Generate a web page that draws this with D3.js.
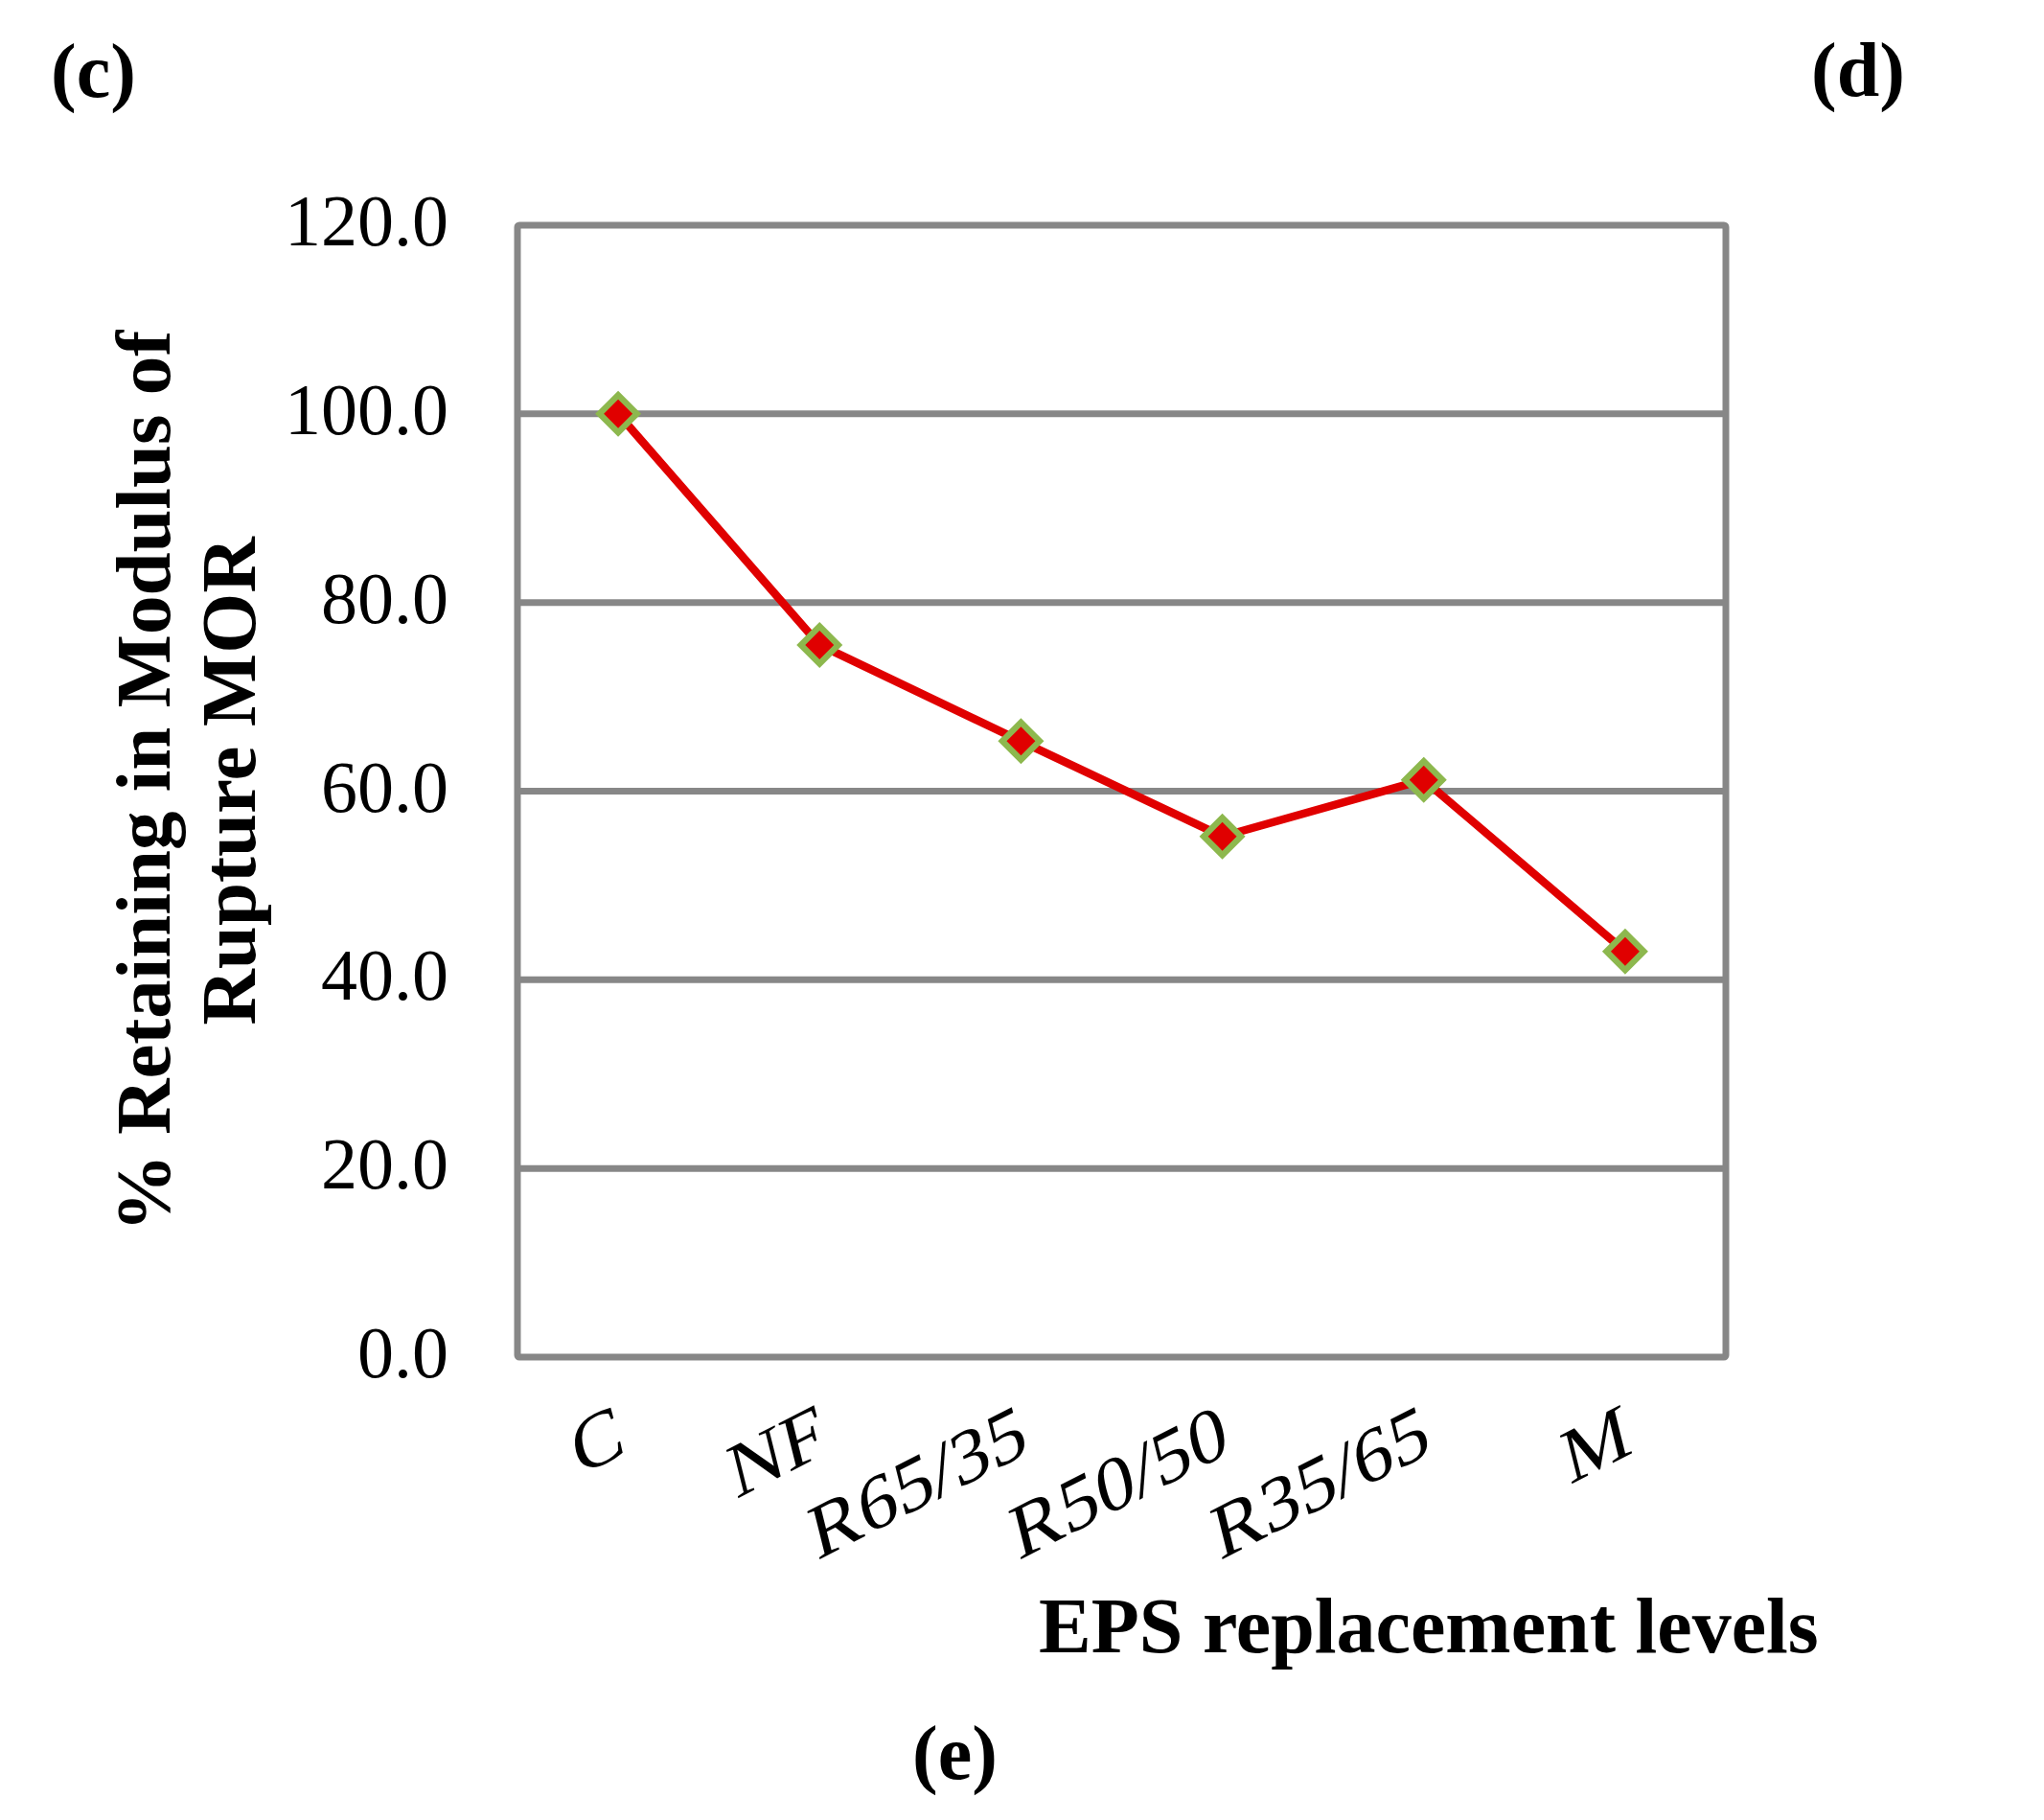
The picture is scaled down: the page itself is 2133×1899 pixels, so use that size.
<!DOCTYPE html>
<html>
<head>
<meta charset="utf-8">
<script src="https://cdn.jsdelivr.net/npm/d3@7"></script>
<style>
  html, body { margin: 0; padding: 0; background: #ffffff; }
  svg { display: block; }
</style>
</head>
<body>
<svg id="chart" width="2133" height="1899"></svg>
<script>
// ---- data ----
const categories = ["C", "NF", "R65/35", "R50/50", "R35/65", "M"];
const retainingMOR = [100.0, 75.5, 65.3, 55.2, 61.2, 43.0];
const yTickValues = [0, 20, 40, 60, 80, 100, 120];
const yAxisTitle = ["% Retaining in Modulus of", "Rupture MOR"];
const xAxisTitle = "EPS replacement levels";
const panelLabels = ["(c)", "(d)", "(e)"];

// ---- layout ----
const W = 2133, H = 1899;
const plot = { left: 540, right: 1801, top: 235, bottom: 1416 };
const gray = "#878787";
const serif = "'Liberation Serif', 'DejaVu Serif', serif";

const svg = d3.select("#chart");

const x = d3.scalePoint()
  .domain(categories)
  .range([plot.left, plot.right])
  .padding(0.5);

const y = d3.scaleLinear()
  .domain([0, 120])
  .range([plot.bottom, plot.top]);

// gridlines
svg.append("g")
  .selectAll("line")
  .data(yTickValues.filter(v => v > 0 && v < 120))
  .join("line")
  .attr("x1", plot.left).attr("x2", plot.right)
  .attr("y1", d => y(d)).attr("y2", d => y(d))
  .attr("stroke", gray).attr("stroke-width", 7);

// plot border
svg.append("rect")
  .attr("x", plot.left).attr("y", plot.top)
  .attr("width", plot.right - plot.left)
  .attr("height", plot.bottom - plot.top)
  .attr("fill", "none")
  .attr("stroke", gray).attr("stroke-width", 7)
  .attr("rx", 2);

// y axis ticks (labels only)
const yAxis = d3.axisLeft(y)
  .tickValues(yTickValues)
  .tickFormat(d3.format(".1f"))
  .tickSize(0)
  .tickPadding(72);
const yg = svg.append("g")
  .attr("transform", `translate(${plot.left},0)`)
  .call(yAxis);
yg.select(".domain").remove();
yg.selectAll("text")
  .attr("font-family", serif)
  .attr("font-size", 76)
  .attr("fill", "#000")
  .attr("dy", "0.27em");

// x axis labels
const xAxis = d3.axisBottom(x).tickSize(0).tickPadding(0);
const xg = svg.append("g")
  .attr("transform", `translate(0,${plot.bottom})`)
  .call(xAxis);
xg.select(".domain").remove();
xg.selectAll(".tick text")
  .attr("font-family", serif)
  .attr("font-size", 77)
  .attr("fill", "#000")
  .attr("text-anchor", "end")
  .attr("y", 0).attr("dy", 0)
  .attr("transform", "translate(9,99) rotate(-27) skewX(-13) scale(1.1,1)");

// line
const line = d3.line()
  .x((d, i) => x(categories[i]))
  .y(d => y(d));
svg.append("path")
  .datum(retainingMOR)
  .attr("d", line)
  .attr("fill", "none")
  .attr("stroke", "#E00000")
  .attr("stroke-width", 8.5)
  .attr("stroke-linejoin", "round");

// markers
const sym = d3.symbol().type(d3.symbolSquare).size(760);
svg.append("g")
  .selectAll("path")
  .data(retainingMOR)
  .join("path")
  .attr("d", sym)
  .attr("transform", (d, i) => `translate(${x(categories[i])},${y(d)}) rotate(45)`)
  .attr("fill", "#E00000")
  .attr("stroke", "#8DB84E")
  .attr("stroke-width", 6.4);

// y axis title
const yt = svg.append("text")
  .attr("transform", "translate(177,815) rotate(-90)")
  .attr("font-family", serif)
  .attr("font-weight", "bold")
  .attr("font-size", 81)
  .attr("text-anchor", "middle")
  .attr("fill", "#000");
yt.selectAll("tspan")
  .data(yAxisTitle)
  .join("tspan")
  .attr("x", 0)
  .attr("y", (d, i) => i * 89)
  .text(d => d);

// x axis title
svg.append("text")
  .attr("x", 1084).attr("y", 1724)
  .attr("font-family", serif)
  .attr("font-weight", "bold")
  .attr("font-size", 82)
  .attr("fill", "#000")
  .text(xAxisTitle);

// panel labels
const panelPos = [[53, 101], [1890, 100], [952, 1856]];
svg.append("g")
  .selectAll("text")
  .data(panelLabels)
  .join("text")
  .attr("x", (d, i) => panelPos[i][0])
  .attr("y", (d, i) => panelPos[i][1])
  .attr("font-family", serif)
  .attr("font-weight", "bold")
  .attr("font-size", 80)
  .attr("fill", "#000")
  .text(d => d);
</script>
</body>
</html>
